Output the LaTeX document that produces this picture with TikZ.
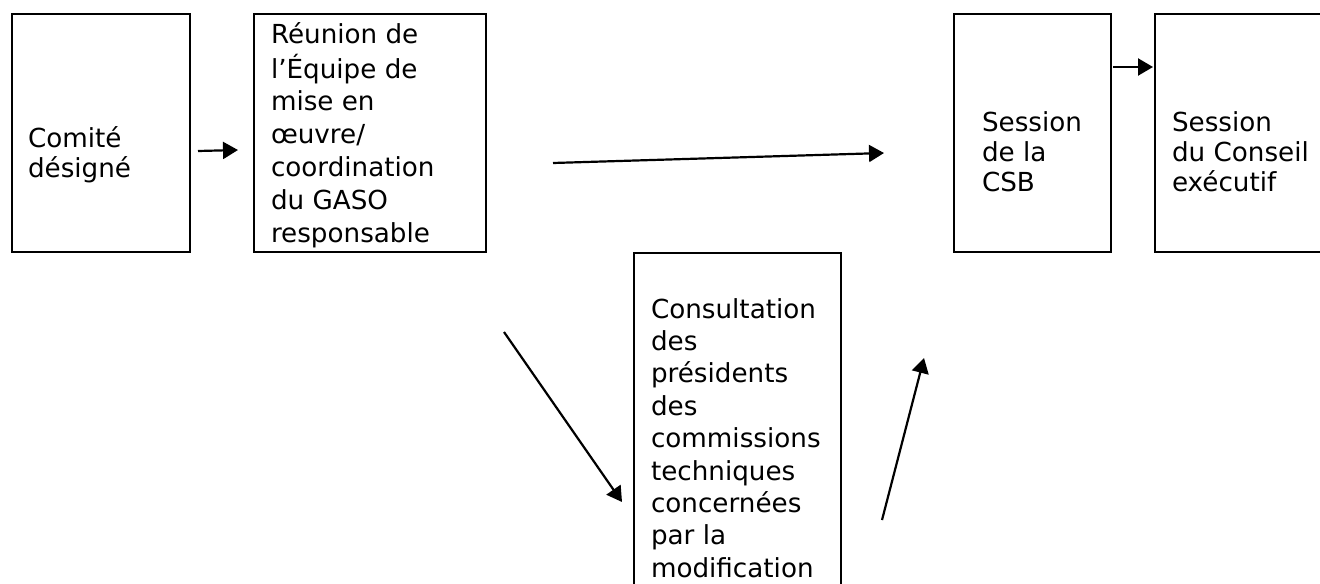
\documentclass[tikz,border=0pt]{standalone}
\usepackage{fontspec}
\setmainfont{DejaVu Sans}
\usetikzlibrary{arrows.meta}
\tikzset{
  box/.style={draw, line width=1.2pt, rectangle, inner sep=0pt, outer sep=0pt, anchor=north west},
  lbl/.style={inner sep=0pt, outer sep=0pt, anchor=base west, align=left},
  conn/.style={line width=1.1pt, -{Triangle[length=7.5pt,width=8.5pt]}}
}
\newcommand{\txtlines}[2]{{\fontsize{13.1}{#1}\selectfont\begin{tabular}[t]{@{}l@{}}#2\end{tabular}}}
\begin{document}
\begin{tikzpicture}[x=0.5pt,y=-0.5pt]
\useasboundingbox (0,0) rectangle (1320,583);
% boxes
\node (b1) [box, minimum width=89pt, minimum height=119pt] at (12,14) {};
\node (b2) [box, minimum width=116pt, minimum height=119pt] at (254,14) {};
\node (b3) [box, minimum width=78.5pt, minimum height=119pt] at (954,14) {};
\node (b4) [box, minimum width=100pt, minimum height=119pt] at (1155,14) {};
\node (b5) [box, minimum width=103.5pt, minimum height=180pt] at (634,253) {};
% texts
\node (t1) [lbl] at (28,147) {\txtlines{15}{Comité\\désigné}};
\node (t2) [lbl] at (271,44) {\txtlines{16.4}{Réunion de\\l’Équipe de\\mise en\\œuvre/\\coordination\\du GASO\\responsable}};
\node (t3) [lbl] at (982,131) {\txtlines{15}{Session\\de la\\CSB}};
\node (t4) [lbl] at (1172,131) {\txtlines{15}{Session\\du Conseil\\exécutif}};
\node (t5) [lbl] at (651,318) {\txtlines{16.2}{Consultation\\des\\présidents\\des\\commissions\\techniques\\concernées\\par la\\modification}};
% connector ends
\coordinate (a1s) at (198,151); \coordinate (a1e) at (238,150);
\coordinate (a2s) at (553,163); \coordinate (a2e) at (884,153);
\coordinate (a3s) at (1113,67); \coordinate (a3e) at (1153,67);
\coordinate (a4s) at (504,332); \coordinate (a4e) at (622,502);
\coordinate (a5s) at (882,520); \coordinate (a5e) at (924,358);
\draw[conn] (a1s) -- (a1e);
\draw[conn] (a2s) -- (a2e);
\draw[conn] (a3s) -- (a3e);
\draw[conn] (a4s) -- (a4e);
\draw[conn] (a5s) -- (a5e);
\end{tikzpicture}
\end{document}
